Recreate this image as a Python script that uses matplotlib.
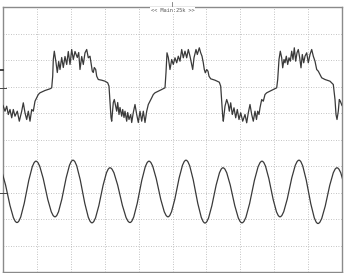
import matplotlib
matplotlib.use("Agg")
import matplotlib.pyplot as plt
from matplotlib.path import Path
from matplotlib.patches import PathPatch
from matplotlib.lines import Line2D

# ---- data (screen counts: t = time samples, v = level counts, 0 = centre) ----
ch1_t = [0, 2, 3.7, 5.3, 7, 8.7, 10.3, 12, 14.3, 16.3, 18.7, 20.3, 22, 23.7, 25.3, 27, 28.7, 30.3,
         32, 33.7, 35.3, 37, 38.7, 42, 47, 48.7, 49.7, 50.3, 51.3, 53, 54.3, 55.7, 57, 58.7, 60.3,
         62, 63.7, 65.3, 67, 68.7, 70.3, 72, 74.3, 75.7, 77, 78.7, 80.3, 82, 83.7, 85.3, 87, 88,
         89.3, 90.3, 91.3, 92.7, 93.7, 95.3, 98.7, 102, 104.7, 106, 107, 108, 108.7, 110.3, 111.3,
         112.7, 113.7, 114.7, 116, 117, 118.7, 119.7, 121, 122, 123.7, 124.7, 126, 127.7, 128.7,
         130.3, 132, 133.7, 135.3, 137, 138.7, 140.3, 142, 143.7, 145.3, 147, 148.7, 150.3, 152,
         155.3, 158.7, 162, 163, 164, 165.3, 167, 168.7, 170.3, 172, 173.7, 175.3, 177, 178.7,
         180.3, 182, 183.7, 185.3, 187, 188.7, 189.7, 191, 193, 194.3, 196.3, 197.7, 199, 200.3,
         201.3, 202.3, 203.7, 205, 206, 207.7, 212, 216.3, 217.7, 218.7, 219.7, 220.3, 222, 223.7,
         225.3, 226.3, 227.7, 229.3, 231, 232.7, 234.3, 236, 237.7, 239.7, 242, 243.7, 245.3, 247,
         248.7, 250.3, 252, 253.5, 254.7, 256, 257, 258.7, 260.3, 262, 263.7, 267, 270.3, 273.7,
         274.7, 276, 277.3, 278.7, 279.7, 281, 282, 283.3, 284.7, 286, 287.3, 288.7, 290, 291.3,
         292.7, 294, 295.3, 296.7, 298, 299.3, 300.7, 302, 303.7, 305.3, 307, 308.7, 310.3, 312,
         313.7, 315.3, 317, 318.7, 322, 327, 330.3, 332, 333, 334, 335.3, 336.3, 337.3, 339]
ch1_v = [34, 28.3, 33.3, 25, 30, 21.7, 30, 23.3, 28.3, 18.3, 28.3, 36.7, 26.7, 20, 28.3, 18.3, 30, 28.3,
         38.3, 41.7, 45, 46.7, 47.5, 49, 50.7, 51.7, 63.3, 80, 88.3, 77, 67, 78, 70, 82, 72,
         83, 75, 88, 75, 90, 80, 88, 82, 87, 70, 83, 75, 86.7, 90, 81.7, 83.3, 77,
         68.3, 67, 72, 70, 63.3, 60, 59.3, 58.3, 56.7, 53.3, 37, 22, 18.3, 37, 40,
         33.3, 28.3, 37, 25, 32, 23.3, 30, 22, 28.3, 18.3, 27, 20, 25, 17,
         27, 35, 25, 17, 28.3, 18.3, 28.3, 17, 28.3, 35, 38.3, 41.7, 45, 46.7,
         48.3, 50, 51.7, 67, 86.7, 82, 70, 80, 75, 81.7, 76.7, 83.3, 78.3, 90,
         81.7, 88.3, 81.7, 90, 83.3, 75, 70, 81.7, 90, 85, 91.7, 86.7, 83.3, 76.7,
         70, 66.7, 70, 68.3, 63.3, 60.7, 59.3, 57.3, 53.3, 38.3, 23.3, 18.3, 33.3, 40,
         35, 28.3, 36.7, 25, 31.7, 21.7, 30, 20, 26.7, 18.3, 25, 16.7, 26.7, 35,
         25, 18.3, 28.3, 20, 28.3, 25, 31.7, 40, 38.3, 45, 46.7, 48.3, 50, 51.7,
         60, 80, 88.3, 81.7, 71.7, 80, 76.7, 83.3, 75, 81.7, 78.3, 88.3, 80, 91.7,
         78.3, 86.7, 90, 81.7, 71.7, 85, 76.7, 83.3, 86.7, 76.7, 85, 90, 83.3, 78.3,
         70, 68.3, 65, 61.7, 60, 58.3, 55, 40, 25, 20, 28.3, 40, 38.3, 34]

# channel 2: extrema (peaks / troughs) of the sinusoidal trace
ch2_t = [-4.5, 14, 33, 52, 70, 89, 107, 127, 146, 165, 183, 202, 220, 239, 259, 277, 296, 315, 334, 353]
ch2_v = [-28.3, -83, -21.7, -77.3, -20.7, -83.3, -28.3, -83, -21.7, -77.3, -20.7, -83.5, -28.3,
         -83.3, -21.7, -77.3, -20.7, -84, -28.3, -83]

title_text = "<< Main:25k >>"

# ---- figure ----
W, H = 345, 273
fig = plt.figure(figsize=(W / 100, H / 100), dpi=100)
fig.patch.set_facecolor("white")
ax = fig.add_axes([3 / W, 1 / H, 339 / W, 265 / H])
ax.set_xlim(0, 339)
ax.set_ylim(-132.5, 132.5)
ax.set_xticks([])
ax.set_yticks([])
for s in ax.spines.values():
    s.set_color("#8a8a8a")
    s.set_linewidth(1.0)

dx = 339 / 10
dy = 265 / 10
for i in range(1, 10):
    ax.axvline(i * dx, color="#b0b0b0", lw=0.6, ls=(0, (1, 2)), zorder=1)
    ax.axhline(-132.5 + i * dy, color="#b0b0b0", lw=0.6, ls=(0, (1, 2)), zorder=1)

trace_color = "#3a3a3a"
ax.plot(ch1_t, ch1_v, color=trace_color, lw=0.9, zorder=3, solid_joinstyle="round")

# smooth sinusoid through extrema using cubic Bezier segments
k = 0.363
verts = [(ch2_t[0], ch2_v[0])]
codes = [Path.MOVETO]
for i in range(1, len(ch2_t)):
    t0, v0 = ch2_t[i - 1], ch2_v[i - 1]
    t1, v1 = ch2_t[i], ch2_v[i]
    d = t1 - t0
    verts += [(t0 + k * d, v0), (t1 - k * d, v1), (t1, v1)]
    codes += [Path.CURVE4] * 3
patch = PathPatch(Path(verts, codes), fill=False, edgecolor=trace_color, lw=0.9, zorder=3)
ax.add_patch(patch)

ax.text(169.5, 129.5, title_text, ha="center", va="center", fontsize=3.8,
        family="DejaVu Sans Mono", color="#555555", zorder=5,
        bbox=dict(facecolor="white", edgecolor="none", pad=0.6))

# trigger position marker and channel markers
fig.add_artist(Line2D([172 / W, 172 / W], [1 - 2 / H, 1 - 6 / H], color="#777777", lw=0.6))
fig.add_artist(Line2D([0, 3 / W], [1 - 70 / H, 1 - 70 / H], color="#222222", lw=1.2))
for py in (88, 193):
    fig.add_artist(Line2D([0, 6 / W], [1 - py / H, 1 - py / H], color="#444444", lw=0.7))

fig.savefig("out.png", dpi=100)
